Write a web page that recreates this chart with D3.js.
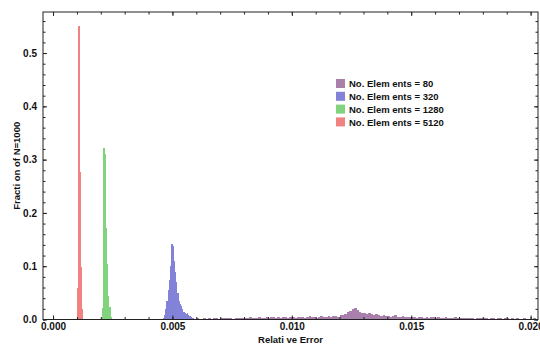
<!DOCTYPE html>
<html>
<head>
<meta charset="utf-8">
<script src="https://cdn.jsdelivr.net/npm/d3@7"></script>
<style>
  body { margin: 0; background: #fff; }
  svg text { font-family: "Liberation Sans", Arial, sans-serif; font-weight: bold; fill: #111; }
</style>
</head>
<body>
<figure id="chart" style="margin:0"></figure>
<script>
// histogram heights (fraction of N=1000), one value per bin
const binWidth = 0.00005;
const purpleBinWidth = 0.0001;

const labels = ['No. Elem ents = 80', 'No. Elem ents = 320', 'No. Elem ents = 1280', 'No. Elem ents = 5120'];
const colors = ['#a97fab', '#8282d9', '#82d37e', '#f08282'];

const start80 = 0.0030;
const values80 = [
  0, 0.001, 0, 0, 0.001, 0, 0, 0.001, 0, 0.001,
  0, 0.001, 0, 0.001, 0, 0.001, 0.001, 0, 0.001, 0,
  0.001, 0, 0.001, 0.001, 0, 0.001, 0.001, 0.002, 0.001, 0.001,
  0.002, 0.001, 0.001, 0.002, 0.001, 0.003, 0.001, 0.002, 0.002, 0.001,
  0.002, 0.003, 0.002, 0.002, 0.003, 0.001, 0.002, 0.003, 0.002, 0.003,
  0.003, 0.002, 0.004, 0.003, 0.002, 0.003, 0.004, 0.003, 0.002, 0.004,
  0.003, 0.004, 0.005, 0.003, 0.004, 0.003, 0.005, 0.004, 0.003, 0.005,
  0.004, 0.003, 0.005, 0.004, 0.005, 0.003, 0.004, 0.006, 0.004, 0.005,
  0.003, 0.005, 0.006, 0.005, 0.004, 0.006, 0.005, 0.007, 0.006, 0.005,
  0.009, 0.008, 0.011, 0.014, 0.016, 0.019, 0.021, 0.018, 0.015, 0.012,
  0.013, 0.011, 0.012, 0.010, 0.009, 0.011, 0.008, 0.007, 0.009, 0.006,
  0.007, 0.005, 0.006, 0.008, 0.005, 0.004, 0.006, 0.005, 0.004, 0.005,
  0.004, 0.005, 0.003, 0.004, 0.005, 0.003, 0.004, 0.003, 0.005, 0.004,
  0.003, 0.004, 0.003, 0.002, 0.004, 0.003, 0.002, 0.003, 0.004, 0.002,
  0.003, 0.002, 0.003, 0.002, 0.003, 0.002, 0.001, 0.003, 0.002, 0.002,
  0.002, 0.003, 0.001, 0.002, 0.002, 0.001, 0.003, 0.002, 0.001, 0.002,
  0.002, 0.001, 0.002, 0.001, 0.002, 0.001, 0.001, 0.002, 0.001, 0.001,
  0.001, 0.002, 0.001
];

const start320 = 0.00460;
const values320 = [
  0.003, 0.008, 0.02, 0.035, 0.055, 0.075, 0.10, 0.142, 0.138, 0.11,
  0.09, 0.07, 0.05, 0.035, 0.03, 0.025, 0.02, 0.015, 0.012, 0.01,
  0.012, 0.008, 0.006, 0.004, 0.003, 0.002
];

const start1280 = 0.00200;
const values1280 = [0.005, 0.022, 0.321, 0.31, 0.171, 0.105, 0.045, 0.023, 0.004];

const start5120 = 0.00100;
const values5120 = [0.06, 0.55, 0.276, 0.098, 0.02];

const xMajor = [0, 0.005, 0.01, 0.015, 0.02];
const yMajor = [0, 0.1, 0.2, 0.3, 0.4, 0.5];

const width = 540;
const height = 346;
const frameLeft = 43;
const frameRight = 538;
const frameTop = 12;
const frameBottom = 319.5;

const svg = d3.select('figure#chart')
  .append('svg')
  .attr('width', width)
  .attr('height', height);

const x = d3.scaleLinear().domain([-0.00042, 0.02031]).range([frameLeft, frameRight]);
const y = d3.scaleLinear().domain([0, 0.577]).range([frameBottom, frameTop]);

const series = [
  { values: values80, start: start80, w: purpleBinWidth, color: colors[0] },
  { values: values320, start: start320, w: binWidth, color: colors[1] },
  { values: values1280, start: start1280, w: binWidth, color: colors[2] },
  { values: values5120, start: start5120, w: binWidth, color: colors[3] },
];

series.forEach((s) => {
  const bins = s.values
    .map((v, i) => ({ x0: s.start + i * s.w, x1: s.start + (i + 1) * s.w, v }))
    .filter((d) => d.v > 0);
  svg.append('g')
    .attr('fill', s.color)
    .attr('shape-rendering', 'crispEdges')
    .selectAll('rect')
    .data(bins)
    .join('rect')
    .attr('x', (d) => x(d.x0))
    .attr('width', (d) => x(d.x1) - x(d.x0) + 0.3)
    .attr('y', (d) => y(d.v))
    .attr('height', (d) => y(0) - y(d.v));
});

// minor and major ticks on all four sides, pointing inward
const xMinor = d3.range(0, 0.0201, 0.001);
const yMinor = d3.range(0, 0.561, 0.02);

function tickAxis(axis, vals, size) {
  return axis.tickValues(vals).tickSize(-size).tickSizeOuter(0).tickFormat('');
}

const axes = [
  [d3.axisBottom(x), `translate(0,${frameBottom})`, xMinor, 2.5],
  [d3.axisTop(x), `translate(0,${frameTop})`, xMinor, 2.5],
  [d3.axisBottom(x), `translate(0,${frameBottom})`, xMajor, 4],
  [d3.axisTop(x), `translate(0,${frameTop})`, xMajor, 4],
  [d3.axisLeft(y), `translate(${frameLeft},0)`, yMinor, 2.5],
  [d3.axisRight(y), `translate(${frameRight},0)`, yMinor, 2.5],
  [d3.axisLeft(y), `translate(${frameLeft},0)`, yMajor, 4],
  [d3.axisRight(y), `translate(${frameRight},0)`, yMajor, 4],
];
axes.forEach(([ax, tr, vals, size]) => {
  svg.append('g')
    .attr('transform', tr)
    .call(tickAxis(ax, vals, size))
    .call((g) => g.select('.domain').remove())
    .call((g) => g.selectAll('line').attr('stroke', '#222'));
});

// tick labels
svg.append('g')
  .attr('transform', `translate(0,${frameBottom})`)
  .call(d3.axisBottom(x).tickValues(xMajor).tickSize(0).tickPadding(3).tickFormat(d3.format('.3f')))
  .call((g) => g.select('.domain').remove())
  .call((g) => g.selectAll('text').attr('font-size', 10).attr('font-family', null));

svg.append('g')
  .attr('transform', `translate(${frameLeft},0)`)
  .call(d3.axisLeft(y).tickValues(yMajor).tickSize(0).tickPadding(6).tickFormat(d3.format('.1f')))
  .call((g) => g.select('.domain').remove())
  .call((g) => g.selectAll('text').attr('font-size', 10).attr('font-family', null));

// frame
svg.append('rect')
  .attr('x', frameLeft)
  .attr('y', frameTop)
  .attr('width', frameRight - frameLeft)
  .attr('height', frameBottom - frameTop)
  .attr('fill', 'none')
  .attr('stroke', '#222')
  .attr('stroke-width', 1);

// axis titles
svg.append('text')
  .attr('x', (frameLeft + frameRight) / 2)
  .attr('y', 343)
  .attr('text-anchor', 'middle')
  .attr('font-size', 9.5)
  .text('Relati ve Error');

svg.append('text')
  .attr('transform', `translate(20,${(frameTop + frameBottom) / 2}) rotate(-90)`)
  .attr('text-anchor', 'middle')
  .attr('font-size', 9.5)
  .text('Fracti on of N=1000');

// legend
const legend = svg.append('g').attr('transform', 'translate(336,79)');
labels.forEach((label, i) => {
  const row = legend.append('g').attr('transform', `translate(0,${i * 12.8})`);
  row.append('rect')
    .attr('width', 9)
    .attr('height', 9)
    .attr('fill', colors[i]);
  row.append('text')
    .attr('x', 13)
    .attr('y', 8.3)
    .attr('font-size', 9.5)
    .text(label);
});
</script>
</body>
</html>
